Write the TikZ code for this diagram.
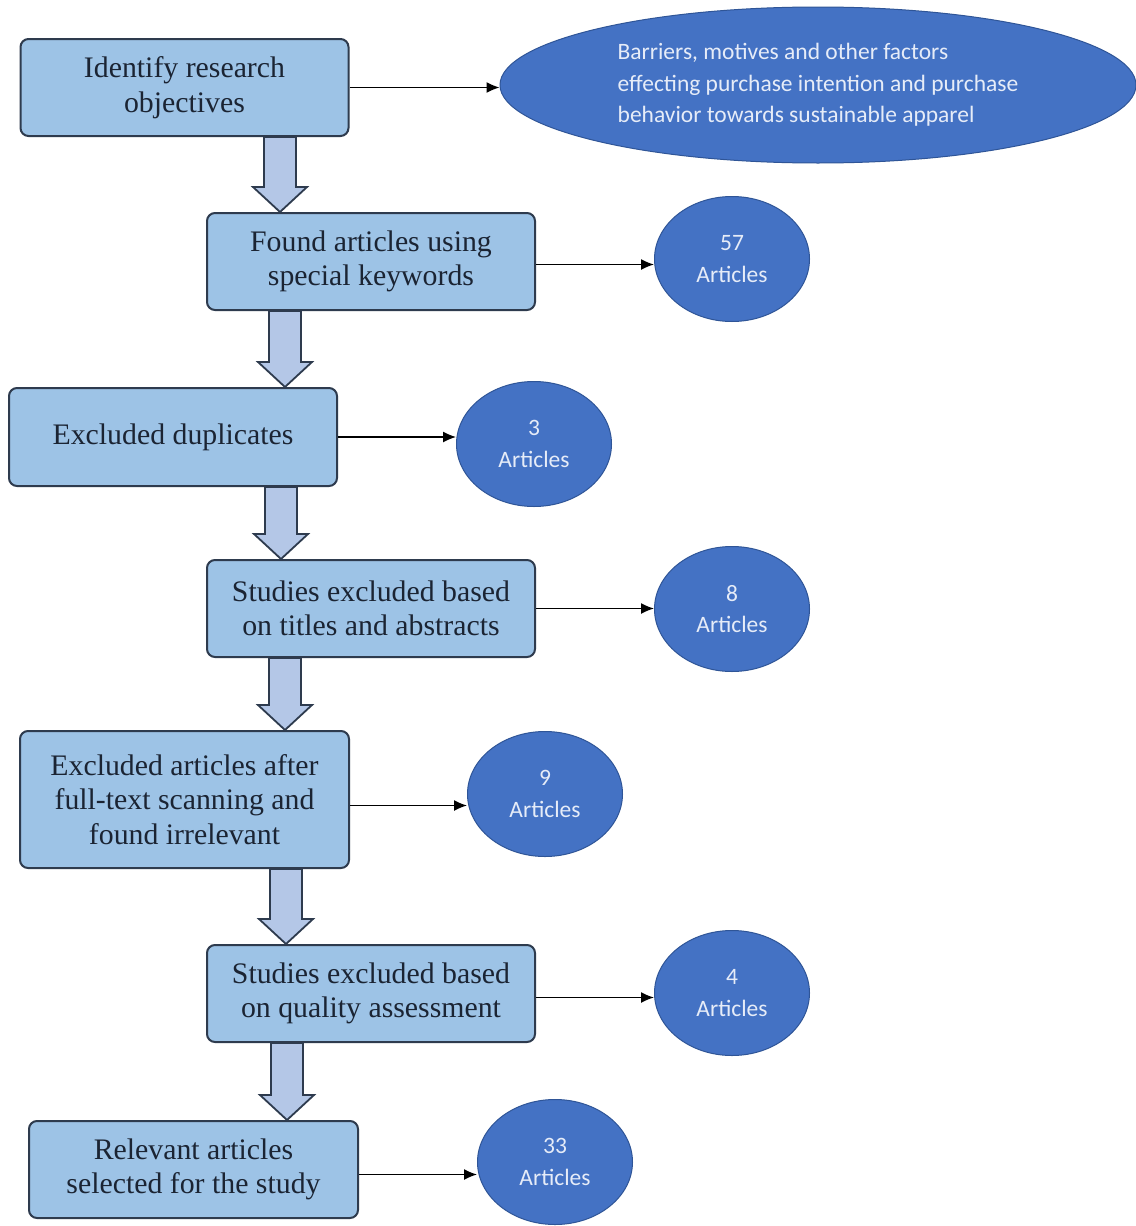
\documentclass[tikz,border=0pt]{standalone}
\usepackage{fontspec}
\setmainfont{Liberation Serif}
\newfontfamily\cfont{Carlito}
\usetikzlibrary{calc,shapes.geometric,arrows.meta}
\definecolor{boxfill}{HTML}{9DC3E6}
\definecolor{arrowfill}{HTML}{B4C7E7}
\definecolor{edgegrey}{HTML}{2E3B4E}
\definecolor{inktext}{HTML}{1B2433}
\definecolor{discblue}{HTML}{4472C4}
\definecolor{discedge}{HTML}{2F5597}
\definecolor{disctext}{HTML}{E6ECF8}
\tikzset{
  stepbox/.style={draw=edgegrey, line width=2pt, fill=boxfill, rounded corners=8pt,
    minimum width=328pt, minimum height=97pt, inner sep=0pt, align=center,
    text=inktext, font=\fontsize{29.8}{34.5}\selectfont},
  countdisc/.style={ellipse, draw=discedge, line width=1pt, fill=discblue,
    minimum width=155pt, minimum height=125pt, inner sep=0pt, align=center,
    text=disctext, font=\cfont\fontsize{23.5}{31.5}\selectfont},
  blockarrow/.style={draw=edgegrey, line width=1.8pt, fill=arrowfill, line join=miter},
  thinarrow/.style={draw=black, line width=1.3pt, -{Latex[length=13pt,width=11pt]}}
}
% vertical block arrow at horizontal position #1 from box #2 to box #3
\newcommand\flowarrow[3]{%
  \draw[blockarrow] let \p1=(#2.south), \p2=(#3.north) in
    (#1pt-16pt,\y1) -- (#1pt+16pt,\y1) -- (#1pt+16pt,\y2+25pt) -- (#1pt+27pt,\y2+25pt)
    -- (#1pt,\y2) -- (#1pt-27pt,\y2+25pt) -- (#1pt-16pt,\y2+25pt) -- cycle;
}
\begin{document}
\begin{tikzpicture}[x=1pt,y=-1pt]
\useasboundingbox[fill=white] (0,0) rectangle (1135,1226);

% process steps
\node[stepbox] (b1) at (184.5,87.5) {Identify research\\objectives};
\node[stepbox] (b2) at (371,261.5) {Found articles using\\special keywords};
\node[stepbox, minimum height=98pt] (b3) at (173,437) {Excluded duplicates};
\node[stepbox] (b4) at (371,608.5) {Studies excluded based\\on titles and abstracts};
\node[stepbox, minimum width=329pt, minimum height=137pt] (b5) at (184.5,799.5) {Excluded articles after\\full-text scanning and\\found irrelevant};
\node[stepbox] (b6) at (371,993.5) {Studies excluded based\\on quality assessment};
\node[stepbox, minimum width=329pt] (b7) at (193.5,1169.5) {Relevant articles\\selected for the study};

% outcomes
\node[countdisc, minimum width=636pt, minimum height=156pt, align=left] (c0) at (818,85)
  {Barriers, motives and other factors\\effecting purchase intention and purchase\\behavior towards sustainable apparel};
\node[countdisc] (c1) at (732,259) {57\\Articles};
\node[countdisc] (c2) at (534,444) {3\\Articles};
\node[countdisc] (c3) at (732,609) {8\\Articles};
\node[countdisc] (c4) at (545,794) {9\\Articles};
\node[countdisc] (c5) at (732,993) {4\\Articles};
\node[countdisc] (c6) at (555,1162) {33\\Articles};

% flow between steps
\flowarrow{280}{b1}{b2}
\flowarrow{285}{b2}{b3}
\flowarrow{281}{b3}{b4}
\flowarrow{285}{b4}{b5}
\flowarrow{286}{b5}{b6}
\flowarrow{287}{b6}{b7}

% links from steps to outcomes
\draw[thinarrow] (b1.east) -- (b1.east -| c0.west);
\draw[thinarrow] ([yshift=-3pt]b2.east) -- ([yshift=-3pt]b2.east -| c1.west);
\draw[thinarrow] (b3.east) -- (b3.east -| c2.west);
\draw[thinarrow] (b4.east) -- (b4.east -| c3.west);
\draw[thinarrow] ([yshift=-6pt]b5.east) -- ([yshift=-6pt]b5.east -| c4.west);
\draw[thinarrow] ([yshift=-4pt]b6.east) -- ([yshift=-4pt]b6.east -| c5.west);
\draw[thinarrow] ([yshift=-5pt]b7.east) -- ([yshift=-5pt]b7.east -| c6.west);
\end{tikzpicture}
\end{document}
